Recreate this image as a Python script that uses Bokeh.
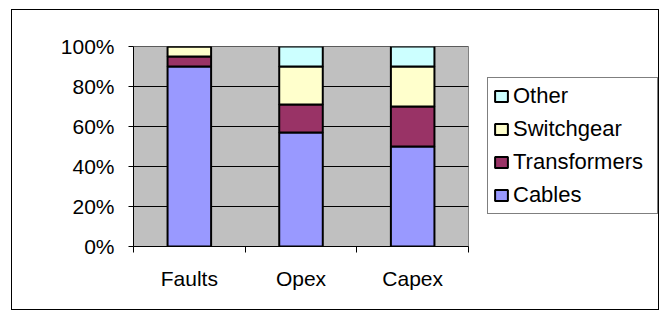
from bokeh.plotting import figure
from bokeh.models import FixedTicker, NumeralTickFormatter, Legend, LegendItem, ColumnDataSource
from bokeh.embed import file_html
from bokeh.resources import INLINE

categories = ["Faults", "Opex", "Capex"]
cables = [0.90, 0.57, 0.50]
transformers = [0.05, 0.14, 0.20]
switchgear = [0.05, 0.19, 0.20]
other = [0.00, 0.10, 0.10]
series = ["Cables", "Transformers", "Switchgear", "Other"]
colors = ["#9999FF", "#993366", "#FFFFCC", "#CCFFFF"]
y_ticks = [0, 0.2, 0.4, 0.6, 0.8, 1.0]

n = len(categories)
xpos = [i + 0.5 for i in range(n)]
source = ColumnDataSource(dict(x=xpos, Cables=cables, Transformers=transformers,
                               Switchgear=switchgear, Other=other))

FONT = "Liberation Sans"
FS = "21px"

CAT_PX = 335 / 3          # pixel width of one category slot
FRAME_W = 525
x_end = FRAME_W / CAT_PX  # frame extends right to hold the legend

p = figure(frame_width=FRAME_W, frame_height=200, x_range=(0, x_end), y_range=(0, 1),
           output_backend="svg", toolbar_location=None,
           min_border_left=121, min_border_right=0, min_border_top=36, min_border_bottom=63)
p.styles = {"border": "1px solid black", "margin-left": "11px", "margin-top": "9px"}
p.background_fill_color = "white"
p.border_fill_color = "white"
p.outline_line_color = None

# grey plot area and gridlines (below the bars)
p.quad(left=0, right=n, bottom=0, top=1, fill_color="#C0C0C0", line_color="#808080",
       line_width=1, level="image")
p.segment(x0=[0] * len(y_ticks), x1=[n] * len(y_ticks), y0=y_ticks, y1=y_ticks,
          line_color="black", line_width=1, level="underlay")

renderers = p.vbar_stack(series, x="x", width=0.39, source=source, color=colors,
                         line_color="black", line_width=2)

# axes
p.yaxis.ticker = FixedTicker(ticks=y_ticks)
p.yaxis.formatter = NumeralTickFormatter(format="0%")
p.yaxis.major_tick_in = 0
p.yaxis.major_tick_out = 5
p.yaxis.minor_tick_line_color = None
p.yaxis.major_label_standoff = 14
p.yaxis.major_label_text_font = FONT
p.yaxis.major_label_text_font_size = FS
p.yaxis.major_label_text_color = "black"
p.yaxis.axis_line_color = "black"

p.xaxis.bounds = (0, n)
p.xaxis.ticker = FixedTicker(ticks=xpos, minor_ticks=list(range(n + 1)))
p.xaxis.major_label_overrides = {x: c for x, c in zip(xpos, categories)}
p.xaxis.major_tick_in = 0
p.xaxis.major_tick_out = 0
p.xaxis.minor_tick_in = 0
p.xaxis.minor_tick_out = 6
p.xaxis.minor_tick_line_color = "black"
p.xaxis.major_label_standoff = 14
p.xaxis.major_label_text_font = FONT
p.xaxis.major_label_text_font_size = FS
p.xaxis.major_label_text_color = "black"
p.xaxis.axis_line_color = "black"

p.xgrid.grid_line_color = None
p.ygrid.grid_line_color = None

items = [LegendItem(label=s, renderers=[r]) for s, r in zip(series, renderers)][::-1]
legend = Legend(items=items, location=(354, 32), border_line_color="black",
                border_line_width=1, background_fill_color="white", background_fill_alpha=1,
                label_text_font=FONT, label_text_font_size="22px", label_text_color="black",
                glyph_width=16, glyph_height=14, label_standoff=4, spacing=7,
                padding=5, label_height=25, label_width=139)
p.add_layout(legend, "center")

open("out.html", "w").write(file_html(p, INLINE))
